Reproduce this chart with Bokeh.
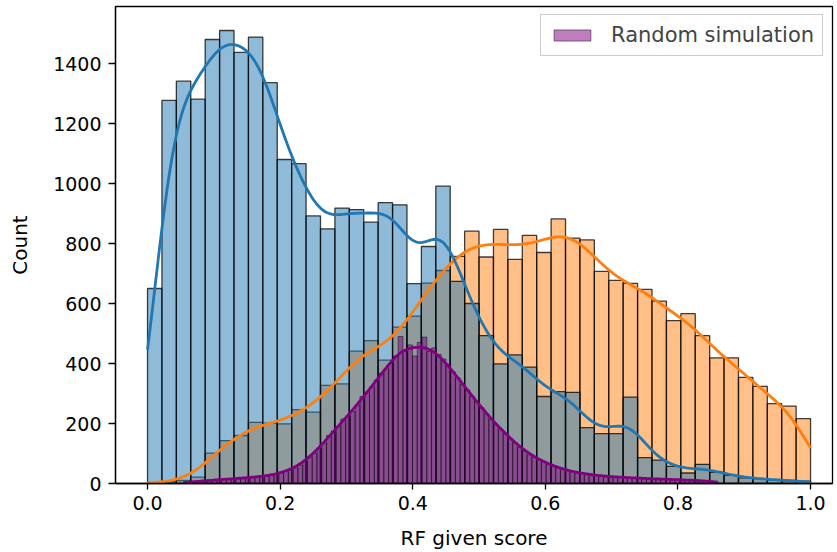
import numpy as np
from bokeh.plotting import figure
from bokeh.models import Range1d, FixedTicker, PrintfTickFormatter, Legend, LegendItem
from bokeh.embed import file_html
from bokeh.resources import INLINE

# ---------------- data ----------------
score_lo, score_hi, score_bins = 0.0, 1.0, 46
blue_counts = [650, 1277, 1341, 1281, 1480, 1510, 1437, 1488, 1336, 1080,
               1066, 892, 849, 918, 913, 871, 936, 929, 666, 790,
               991, 674, 600, 493, 399, 429, 388, 290, 306, 304,
               186, 166, 166, 288, 86, 78, 57, 35, 64, 37,
               27, 19, 16, 12, 10, 8]
orange_counts = [3, 6, 10, 21, 101, 143, 160, 204, 201, 199,
                 246, 238, 327, 332, 441, 476, 411, 521, 558, 668,
                 710, 757, 841, 755, 847, 747, 827, 770, 882, 818,
                 812, 707, 677, 667, 647, 608, 543, 566, 493, 419,
                 419, 354, 324, 266, 258, 216]
sim_lo, sim_hi, sim_bins = 0.054, 0.8604, 112
sim_counts = [4, 6, 5, 8, 9, 11, 10, 13, 14, 15,
              16, 18, 17, 20, 22, 21, 25, 27, 26, 31,
              35, 40, 44, 52, 61, 73, 88, 101, 118, 135,
              160, 175, 190, 215, 225, 240, 262, 290, 305, 322,
              345, 368, 382, 400, 425, 490, 440, 462, 425, 470,
              488, 440, 452, 430, 415, 398, 372, 352, 330, 312,
              290, 275, 252, 232, 215, 196, 180, 166, 150, 136,
              120, 108, 96, 88, 80, 72, 64, 58, 52, 47,
              43, 40, 36, 34, 31, 29, 27, 26, 24, 23,
              22, 21, 20, 19, 19, 18, 17, 16, 16, 15,
              14, 14, 13, 13, 12, 11, 11, 10, 10, 9,
              8, 7]
x_ticks = [0.0, 0.2, 0.4, 0.6, 0.8, 1.0]
y_ticks = [0, 200, 400, 600, 800, 1000, 1200, 1400]
legend_label = "Random simulation"
x_label = "RF given score"
y_label = "Count"

FONT = "DejaVu Sans"


def kde_from_hist(edges, counts, npts=300):
    """Gaussian KDE (Scott bandwidth) of the binned data, scaled to counts."""
    edges = np.asarray(edges, float)
    w = np.asarray(counts, float)
    c = (edges[:-1] + edges[1:]) / 2
    bw = edges[1] - edges[0]
    n = w.sum()
    mu = (w * c).sum() / n
    sd = np.sqrt((w * (c - mu) ** 2).sum() / n)
    h = sd * n ** (-0.2)
    h = np.sqrt(h ** 2 + bw ** 2 / 12.0)
    xs = np.linspace(edges[0], edges[-1], npts)
    d = (w[None, :] * np.exp(-0.5 * ((xs[:, None] - c[None, :]) / h) ** 2)).sum(1)
    d = d / (h * np.sqrt(2 * np.pi)) * bw
    return xs, d


p = figure(width=837, height=552, output_backend="svg", toolbar_location=None,
           x_range=Range1d(-0.0483, 1.0331), y_range=Range1d(0, 1590),
           min_border_left=115, min_border_right=5, min_border_top=6,
           min_border_bottom=69)
p.background_fill_color = "white"
p.border_fill_color = "white"
p.outline_line_color = "black"
p.outline_line_width = 1.3
p.outline_line_alpha = 1
p.xgrid.visible = False
p.ygrid.visible = False

edges = np.linspace(score_lo, score_hi, score_bins + 1)
sim_edges = np.linspace(sim_lo, sim_hi, sim_bins + 1)

# orange below, blue on top (seaborn hue layering)
p.quad(left=edges[:-1], right=edges[1:], bottom=0, top=orange_counts,
       fill_color="#ff7f0e", fill_alpha=0.5, line_color="black",
       line_alpha=0.75, line_width=1.3)
p.quad(left=edges[:-1], right=edges[1:], bottom=0, top=blue_counts,
       fill_color="#1f77b4", fill_alpha=0.5, line_color="black",
       line_alpha=0.75, line_width=1.3)
xo, yo = kde_from_hist(edges, orange_counts)
xb, yb = kde_from_hist(edges, blue_counts)
p.line(xo, yo, line_color="#ff7f0e", line_width=2.8)
p.line(xb, yb, line_color="#1f77b4", line_width=2.8)

sim_r = p.quad(left=sim_edges[:-1], right=sim_edges[1:], bottom=0, top=sim_counts,
               fill_color="#800080", fill_alpha=0.5, line_color="black",
               line_alpha=0.6, line_width=0.8)
xs_, ys_ = kde_from_hist(sim_edges, sim_counts)
p.line(xs_, ys_, line_color="#800080", line_width=2.8)

# axes
for ax in (p.xaxis[0], p.yaxis[0]):
    ax.axis_line_color = "black"
    ax.axis_line_width = 1.3
    ax.major_tick_line_color = "black"
    ax.major_tick_line_width = 1.3
    ax.major_tick_in = 0
    ax.minor_tick_line_color = None
    ax.major_label_text_font = FONT
    ax.major_label_text_font_size = "19px"
    ax.major_label_text_color = "black"
    ax.axis_label_text_font = FONT
    ax.axis_label_text_font_size = "20px"
    ax.axis_label_text_font_style = "normal"
    ax.axis_label_text_color = "black"
p.xaxis[0].major_tick_out = 6
p.yaxis[0].major_tick_out = 7
p.xaxis[0].major_label_standoff = 6
p.yaxis[0].major_label_standoff = 7
p.xaxis[0].axis_label_standoff = 13
p.yaxis[0].axis_label_standoff = 18
p.xaxis[0].ticker = FixedTicker(ticks=x_ticks)
p.xaxis[0].formatter = PrintfTickFormatter(format="%.1f")
p.yaxis[0].ticker = FixedTicker(ticks=y_ticks)
p.xaxis[0].axis_label = x_label
p.yaxis[0].axis_label = y_label

legend = Legend(items=[LegendItem(label=legend_label, renderers=[sim_r])],
                location=(425, 427))
legend.label_text_font = FONT
legend.label_text_font_size = "21px"
legend.border_line_color = "#cccccc"
legend.border_line_width = 1.5
legend.border_line_alpha = 1
legend.background_fill_alpha = 0.8
legend.glyph_width = 46
legend.glyph_height = 14
legend.label_standoff = 16
legend.label_height = 20
legend.padding = 8
legend.margin = 0
p.add_layout(legend)

open("out.html", "w").write(file_html(p, INLINE))
